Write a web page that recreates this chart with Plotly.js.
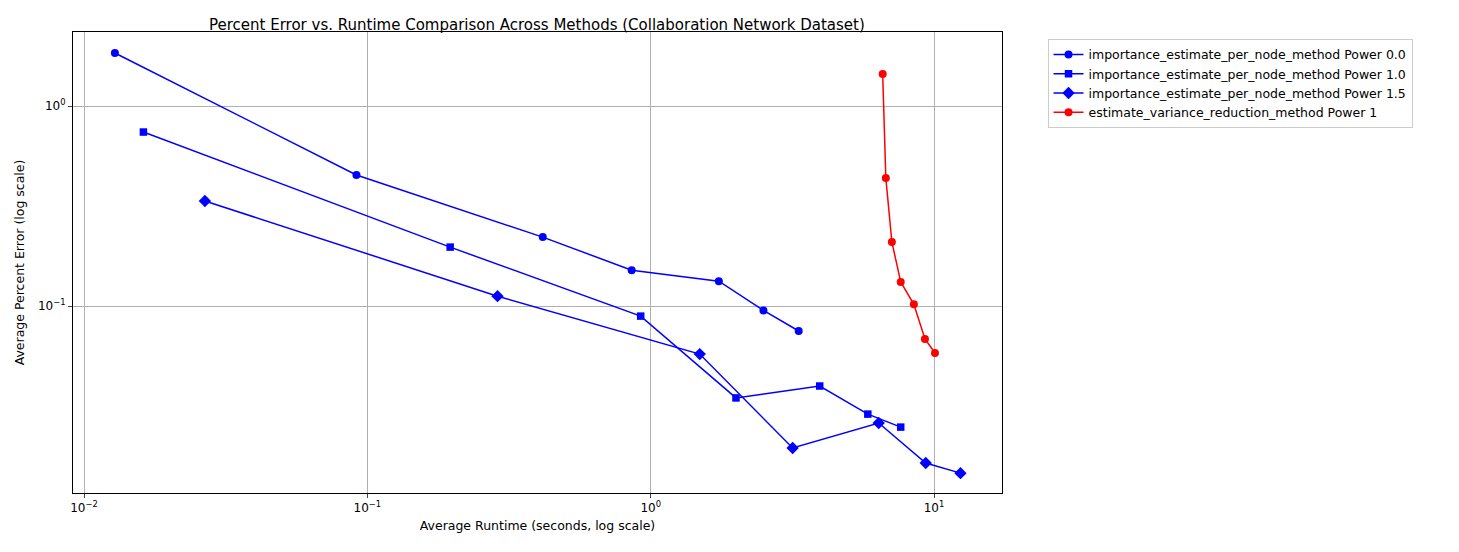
<!DOCTYPE html>
<html>
<head>
<meta charset="utf-8">
<script src="https://cdn.plot.ly/plotly-3.0.1.min.js"></script>
<style>body{margin:0;background:#fff}#graph{width:1459px;height:552px}</style>
</head>
<body>
<div id="graph"></div>
<script>
// values
var p0_x = [0.01285, 0.0915, 0.416, 0.857, 1.74, 2.5, 3.33];
var p0_y = [1.84, 0.452, 0.221, 0.151, 0.133, 0.095, 0.075];
var p1_x = [0.0162, 0.196, 0.922, 2.0, 3.95, 5.84, 7.63];
var p1_y = [0.741, 0.197, 0.089, 0.0347, 0.0398, 0.0288, 0.0248];
var p15_x = [0.0267, 0.288, 1.49, 3.17, 6.38, 9.35, 12.4];
var p15_y = [0.335, 0.112, 0.0575, 0.0195, 0.026, 0.0164, 0.0146];
var red_x = [6.59, 6.76, 7.1, 7.63, 8.49, 9.29, 10.08];
var red_y = [1.445, 0.437, 0.209, 0.132, 0.102, 0.0684, 0.0582];

var names = [
  'importance_estimate_per_node_method Power 0.0',
  'importance_estimate_per_node_method Power 1.0',
  'importance_estimate_per_node_method Power 1.5',
  'estimate_variance_reduction_method Power 1'
];

function trace(x, y, name, color, symbol, size){
  return {x: x, y: y, name: name, mode: 'lines+markers', type: 'scatter',
          line: {color: color, width: 1.5},
          marker: {color: color, symbol: symbol, size: size}};
}

var data = [
  trace(p0_x, p0_y, names[0], '#0000ff', 'circle', 8),
  trace(p1_x, p1_y, names[1], '#0000ff', 'square', 7.5),
  trace(p15_x, p15_y, names[2], '#0000ff', 'diamond', 9.5),
  trace(red_x, red_y, names[3], '#ff0000', 'circle', 8)
];

var sup = function(e){ return '10<sup>' + e + '</sup>'; };

var layout = {
  width: 1459, height: 552,
  margin: {l: 73, r: 457, t: 32, b: 59},
  paper_bgcolor: '#fff', plot_bgcolor: '#fff',
  font: {family: 'DejaVu Sans', size: 12, color: '#000'},
  title: {text: 'Percent Error vs. Runtime Comparison Across Methods (Collaboration Network Dataset)',
          x: 0.368, xanchor: 'center', y: 0.965, font: {size: 15}},
  xaxis: {type: 'log', range: [-2.039, 1.24],
          tickvals: [0.01, 0.1, 1, 10], ticktext: [sup('−2'), sup('−1'), sup('0'), sup('1')],
          ticks: 'outside', ticklen: 4, showgrid: true, gridcolor: '#b0b0b0',
          showline: true, mirror: true, linecolor: '#000', zeroline: false,
          title: {text: 'Average Runtime (seconds, log scale)', standoff: 6, font: {size: 12.5}}},
  yaxis: {type: 'log', range: [-1.935, 0.37],
          tickvals: [0.1, 1], ticktext: [sup('−1'), sup('0')],
          ticks: 'outside', ticklen: 4, showgrid: true, gridcolor: '#b0b0b0',
          showline: true, mirror: true, linecolor: '#000', zeroline: false,
          title: {text: 'Average Percent Error (log scale)', standoff: 10, font: {size: 12.5}}},
  legend: {x: 1.049, y: 0.985, xanchor: 'left', yanchor: 'top',
           bordercolor: '#ccc', borderwidth: 1, font: {size: 12.5}},
  showlegend: true
};

Plotly.newPlot('graph', data, layout, {displayModeBar: false});
</script>
</body>
</html>
